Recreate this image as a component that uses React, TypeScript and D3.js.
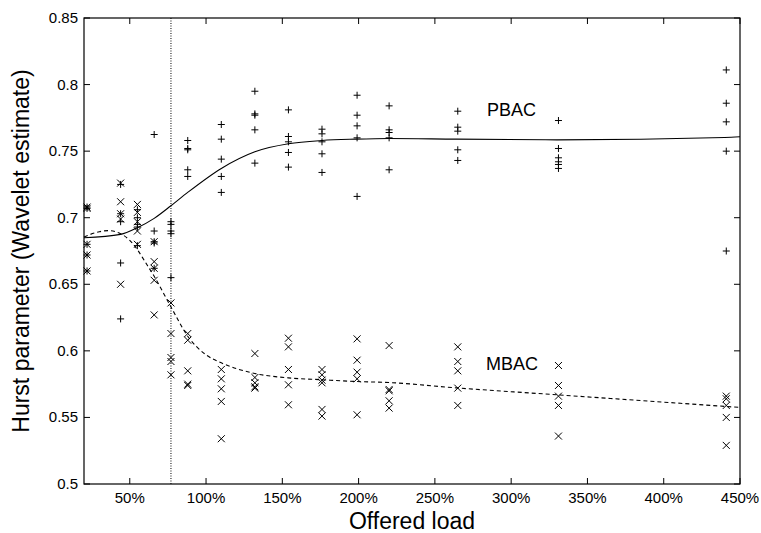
import React from "react";
import * as d3 from "d3";

// ---- data ----
const loads = [22, 44, 55, 66, 77, 88, 110, 132, 154, 176, 199, 220, 265, 331, 441];

const pbacValues: number[][] = [
  [0.708, 0.707, 0.68, 0.672, 0.66],
  [0.725, 0.703, 0.697, 0.666, 0.624],
  [0.706, 0.7, 0.695, 0.693, 0.679],
  [0.7625, 0.69, 0.682, 0.681, 0.662],
  [0.697, 0.695, 0.69, 0.688, 0.655],
  [0.758, 0.752, 0.751, 0.736, 0.731],
  [0.77, 0.759, 0.744, 0.731, 0.719],
  [0.795, 0.778, 0.777, 0.766, 0.741],
  [0.781, 0.761, 0.757, 0.749, 0.738],
  [0.7665, 0.763, 0.757, 0.748, 0.734],
  [0.792, 0.777, 0.769, 0.76, 0.716],
  [0.784, 0.766, 0.764, 0.76, 0.736],
  [0.78, 0.768, 0.765, 0.751, 0.743],
  [0.773, 0.752, 0.745, 0.742, 0.74, 0.737],
  [0.811, 0.786, 0.772, 0.75, 0.675],
];

const mbacValues: number[][] = [
  [0.708, 0.707, 0.68, 0.672, 0.66],
  [0.726, 0.712, 0.703, 0.699, 0.65],
  [0.71, 0.704, 0.697, 0.69, 0.68],
  [0.682, 0.667, 0.662, 0.653, 0.627],
  [0.636, 0.613, 0.595, 0.592, 0.582],
  [0.613, 0.608, 0.585, 0.575, 0.574],
  [0.586, 0.579, 0.5715, 0.562, 0.534],
  [0.598, 0.58, 0.576, 0.573, 0.572],
  [0.6095, 0.603, 0.586, 0.5745, 0.5595],
  [0.586, 0.582, 0.578, 0.576, 0.556, 0.551],
  [0.609, 0.593, 0.584, 0.579, 0.552],
  [0.604, 0.571, 0.57, 0.5625, 0.557],
  [0.603, 0.592, 0.585, 0.572, 0.559],
  [0.589, 0.574, 0.566, 0.559, 0.536],
  [0.566, 0.564, 0.559, 0.55, 0.529],
];

const pbacFitX = [20, 44, 55, 66, 77, 88, 110, 132, 154, 176, 198, 220, 264, 330, 440, 450];
const pbacFitY = [0.685, 0.6875, 0.6925, 0.6995, 0.709, 0.719, 0.737, 0.7495, 0.7555, 0.758, 0.759, 0.7595, 0.759, 0.7585, 0.7603, 0.7608];

const mbacFitX = [20, 30, 36, 44, 50, 55, 60, 66, 77, 88, 100, 110, 132, 154, 176, 198, 220, 264, 330, 440, 450];
const mbacFitY = [0.6855, 0.6895, 0.6903, 0.688, 0.683, 0.676, 0.667, 0.656, 0.633, 0.611, 0.597, 0.591, 0.583, 0.5797, 0.5783, 0.577, 0.5762, 0.5722, 0.567, 0.5583, 0.5575];

const xTicks = [50, 100, 150, 200, 250, 300, 350, 400, 450];
const yTicks = [0.5, 0.55, 0.6, 0.65, 0.7, 0.75, 0.8, 0.85];
const yTickLabels = ["0.5", "0.55", "0.6", "0.65", "0.7", "0.75", "0.8", "0.85"];
const threshold = 77;

const W = 761;
const H = 533;
const margin = { left: 84, right: 21, top: 18, bottom: 49 };
const FONT = "'Liberation Sans', Arial, Helvetica, sans-serif";

export default function App() {
  const x = d3.scaleLinear().domain([20, 450]).range([margin.left, W - margin.right]);
  const y = d3.scaleLinear().domain([0.5, 0.85]).range([H - margin.bottom, margin.top]);
  const x0 = x.range()[0], x1 = x.range()[1];
  const y0 = y.range()[0], y1 = y.range()[1];
  const s = 3.5;
  const tk = 6;

  const line = d3
    .line<[number, number]>()
    .x((d) => x(d[0]))
    .y((d) => y(d[1]))
    .curve(d3.curveMonotoneX);

  const pbacFit = line(pbacFitX.map((v, i) => [v, pbacFitY[i]] as [number, number])) || "";
  const mbacFit = line(mbacFitX.map((v, i) => [v, mbacFitY[i]] as [number, number])) || "";

  const plusPath = pbacValues
    .flatMap((vals, i) =>
      vals.map((v) => {
        const cx = x(loads[i]);
        const cy = y(v);
        return `M${cx - s},${cy}H${cx + s}M${cx},${cy - s}V${cy + s}`;
      })
    )
    .join("");
  const crossPath = mbacValues
    .flatMap((vals, i) =>
      vals.map((v) => {
        const cx = x(loads[i]);
        const cy = y(v);
        return `M${cx - s},${cy - s}L${cx + s},${cy + s}M${cx - s},${cy + s}L${cx + s},${cy - s}`;
      })
    )
    .join("");

  return (
    <svg
      width={W}
      height={H}
      style={{ position: "absolute", left: 0, top: 0, background: "#fff" }}
      fontFamily={FONT}
    >
      <rect x={0} y={0} width={W} height={H} fill="#fff" />
      {/* ticks */}
      {xTicks.map((t) => (
        <g key={"xt" + t}>
          <line x1={x(t)} x2={x(t)} y1={y0} y2={y0 - tk} stroke="#000" />
          <line x1={x(t)} x2={x(t)} y1={y1} y2={y1 + tk} stroke="#000" />
          <text x={x(t)} y={y0 + 19} fontSize={15} textAnchor="middle" fill="#000">
            {t}%
          </text>
        </g>
      ))}
      {yTicks.map((t, i) => (
        <g key={"yt" + t}>
          <line x1={x0} x2={x0 + tk} y1={y(t)} y2={y(t)} stroke="#000" />
          <line x1={x1} x2={x1 - tk} y1={y(t)} y2={y(t)} stroke="#000" />
          <text x={x0 - 6} y={y(t) + 5} fontSize={15} textAnchor="end" fill="#000">
            {yTickLabels[i]}
          </text>
        </g>
      ))}
      {/* threshold dotted line */}
      <line
        x1={x(threshold)}
        x2={x(threshold)}
        y1={y0}
        y2={y1}
        stroke="#000"
        strokeWidth={1}
        strokeDasharray="1,1.5"
      />
      {/* fits */}
      <path d={pbacFit} fill="none" stroke="#000" strokeWidth={1.1} />
      <path d={mbacFit} fill="none" stroke="#000" strokeWidth={1.1} strokeDasharray="4,3" />
      {/* points */}
      <path d={plusPath} fill="none" stroke="#000" strokeWidth={1} />
      <path d={crossPath} fill="none" stroke="#000" strokeWidth={1} />
      {/* labels */}
      <text x={487} y={116} fontSize={18} fill="#000">PBAC</text>
      <text x={486} y={370} fontSize={18} fill="#000">MBAC</text>
      {/* frame */}
      <rect x={x0} y={y1} width={x1 - x0} height={y0 - y1} fill="none" stroke="#000" strokeWidth={1.2} />
      {/* axis titles */}
      <text x={(x0 + x1) / 2} y={529} fontSize={23} textAnchor="middle" fill="#000">
        Offered load
      </text>
      <text
        transform={`translate(29,${(y0 + y1) / 2}) rotate(-90)`}
        fontSize={23}
        textAnchor="middle"
        fill="#000"
      >
        Hurst parameter (Wavelet estimate)
      </text>
    </svg>
  );
}
